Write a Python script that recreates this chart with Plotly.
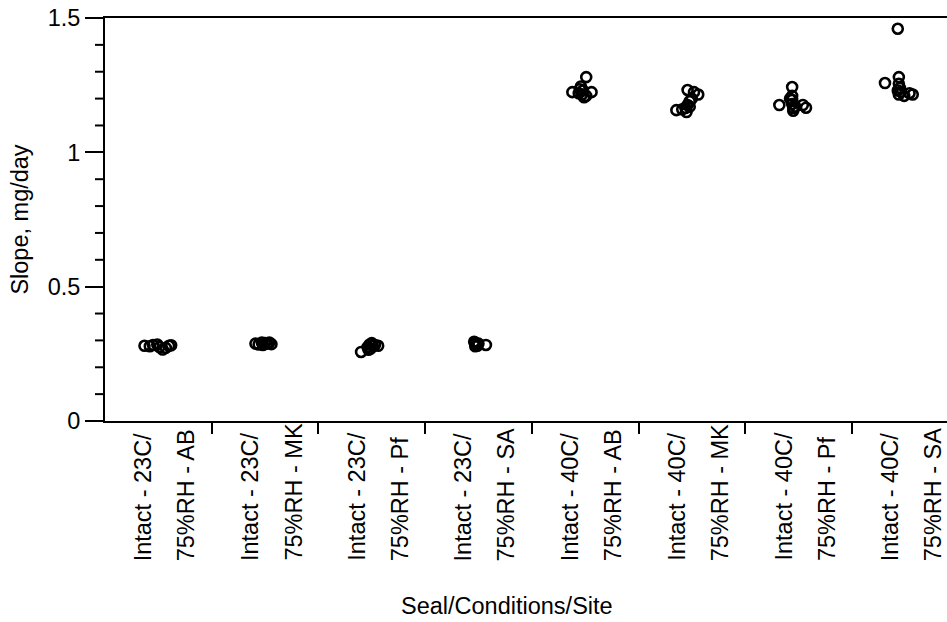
import plotly.graph_objects as go

# ---- data ----
line1 = ["Intact - 23C/"] * 4 + ["Intact - 40C/"] * 4
line2 = ["75%RH - AB", "75%RH - MK", "75%RH - Pf", "75%RH - SA",
         "75%RH - AB", "75%RH - MK", "75%RH - Pf", "75%RH - SA"]

jit_ab23 = [-0.13, -0.08, -0.05, -0.01, 0.01, 0.04, 0.07, 0.10, 0.12]
val_ab23 = [0.280, 0.278, 0.283, 0.285, 0.275, 0.266, 0.272, 0.280, 0.282]

jit_mk23 = [-0.09, -0.06, -0.03, 0.00, 0.02, 0.04, 0.06, -0.02]
val_mk23 = [0.288, 0.285, 0.292, 0.290, 0.288, 0.292, 0.286, 0.283]

jit_pf23 = [-0.10, -0.04, -0.02, 0.00, -0.01, 0.01, -0.03, 0.06, 0.03]
val_pf23 = [0.257, 0.275, 0.285, 0.290, 0.270, 0.280, 0.265, 0.280, 0.283]

jit_sa23 = [-0.04, -0.03, -0.02, -0.01, -0.03, 0.00, 0.07]
val_sa23 = [0.295, 0.290, 0.285, 0.280, 0.278, 0.288, 0.283]

jit_ab40 = [0.01, -0.04, -0.12, 0.06, -0.05, -0.03, -0.01, 0.01, -0.02, -0.06]
val_ab40 = [1.280, 1.245, 1.224, 1.224, 1.235, 1.215, 1.205, 1.210, 1.230, 1.220]

jit_mk40 = [-0.145, -0.09, -0.05, -0.06, -0.04, -0.02, 0.00, -0.04, 0.02, 0.06, -0.02]
val_mk40 = [1.157, 1.160, 1.150, 1.165, 1.176, 1.190, 1.200, 1.232, 1.224, 1.215, 1.170]

jit_pf40 = [-0.06, -0.18, -0.06, -0.06, -0.06, -0.05, -0.05, -0.03, 0.04, 0.07, -0.08]
val_pf40 = [1.243, 1.176, 1.210, 1.195, 1.180, 1.165, 1.155, 1.170, 1.176, 1.166, 1.200]

jit_sa40 = [-0.07, -0.19, -0.06, -0.06, -0.05, -0.04, -0.06, -0.01, 0.04, 0.07, -0.07]
val_sa40 = [1.460, 1.258, 1.280, 1.255, 1.240, 1.225, 1.215, 1.210, 1.220, 1.215, 1.230]

jitters = [jit_ab23, jit_mk23, jit_pf23, jit_sa23, jit_ab40, jit_mk40, jit_pf40, jit_sa40]
values = [val_ab23, val_mk23, val_pf23, val_sa23, val_ab40, val_mk40, val_pf40, val_sa40]

y_major = [0, 0.5, 1, 1.5]
y_major_text = ["0", "0.5", "1", "1.5"]
y_minor = [0.1, 0.2, 0.3, 0.4, 0.6, 0.7, 0.8, 0.9, 1.1, 1.2, 1.3, 1.4]

# ---- layout constants ----
W, H = 947, 622
L, T, B_PX = 105, 18, 421
PLOT_W = W - L
PLOT_H = B_PX - T
FONT = "Liberation Sans, Arial, sans-serif"
FS = 23.5

n = len(line1)
cat_px = 106.7
x_right = -0.5 + PLOT_W / cat_px

fig = go.Figure()

xs, ys = [], []
for i, (jit, val) in enumerate(zip(jitters, values)):
    xs += [i + j for j in jit]
    ys += val
fig.add_trace(go.Scatter(
    x=xs, y=ys, mode="markers",
    marker=dict(symbol="circle-open", size=10, color="black",
                line=dict(width=2.6, color="black")),
    showlegend=False, hoverinfo="skip"))

annotations = []
label_bottom = (B_PX - 563) / PLOT_H
for i in range(n):
    annotations.append(dict(x=i - 15 / cat_px, y=label_bottom, xref="x", yref="paper",
                            text=line1[i], textangle=-90, showarrow=False,
                            xanchor="center", yanchor="bottom",
                            font=dict(family=FONT, size=FS, color="black")))
    annotations.append(dict(x=i + 28 / cat_px, y=label_bottom, xref="x", yref="paper",
                            text=line2[i], textangle=-90, showarrow=False,
                            xanchor="center", yanchor="bottom",
                            font=dict(family=FONT, size=FS, color="black")))
annotations.append(dict(x=(507 - L) / PLOT_W, y=(B_PX - 606) / PLOT_H,
                        xref="paper", yref="paper", text="Seal/Conditions/Site",
                        showarrow=False, xanchor="center", yanchor="middle",
                        font=dict(family=FONT, size=FS, color="black")))

# minor y ticks as short lines placed on the y scale
shapes = [dict(type="line", xref="paper", yref="y", x0=-10 / PLOT_W, x1=0,
               y0=v, y1=v, line=dict(color="black", width=2), layer="above")
          for v in y_minor]

fig.update_layout(
    width=W, height=H,
    margin=dict(l=L, r=0, t=T, b=H - B_PX, pad=0),
    plot_bgcolor="white", paper_bgcolor="white",
    font=dict(family=FONT, size=FS, color="black"),
    annotations=annotations,
    shapes=shapes,
    xaxis=dict(range=[-0.5, x_right], showgrid=False, zeroline=False,
               showline=True, linecolor="black", linewidth=2, mirror=True,
               tickmode="array", tickvals=[k + 0.5 for k in range(n)], ticks="outside",
               ticklen=11, tickwidth=2, tickcolor="black", showticklabels=False),
    yaxis=dict(range=[0, 1.5], showgrid=False, zeroline=False,
               showline=True, linecolor="black", linewidth=2,
               tickmode="array", tickvals=y_major, ticktext=y_major_text,
               ticks="outside", ticklen=18, tickwidth=2, tickcolor="black",
               tickfont=dict(family=FONT, size=FS, color="black"),
               title=dict(text="Slope, mg/day", standoff=12,
                          font=dict(family=FONT, size=FS, color="black"))),
)

fig.write_html("out.html")
